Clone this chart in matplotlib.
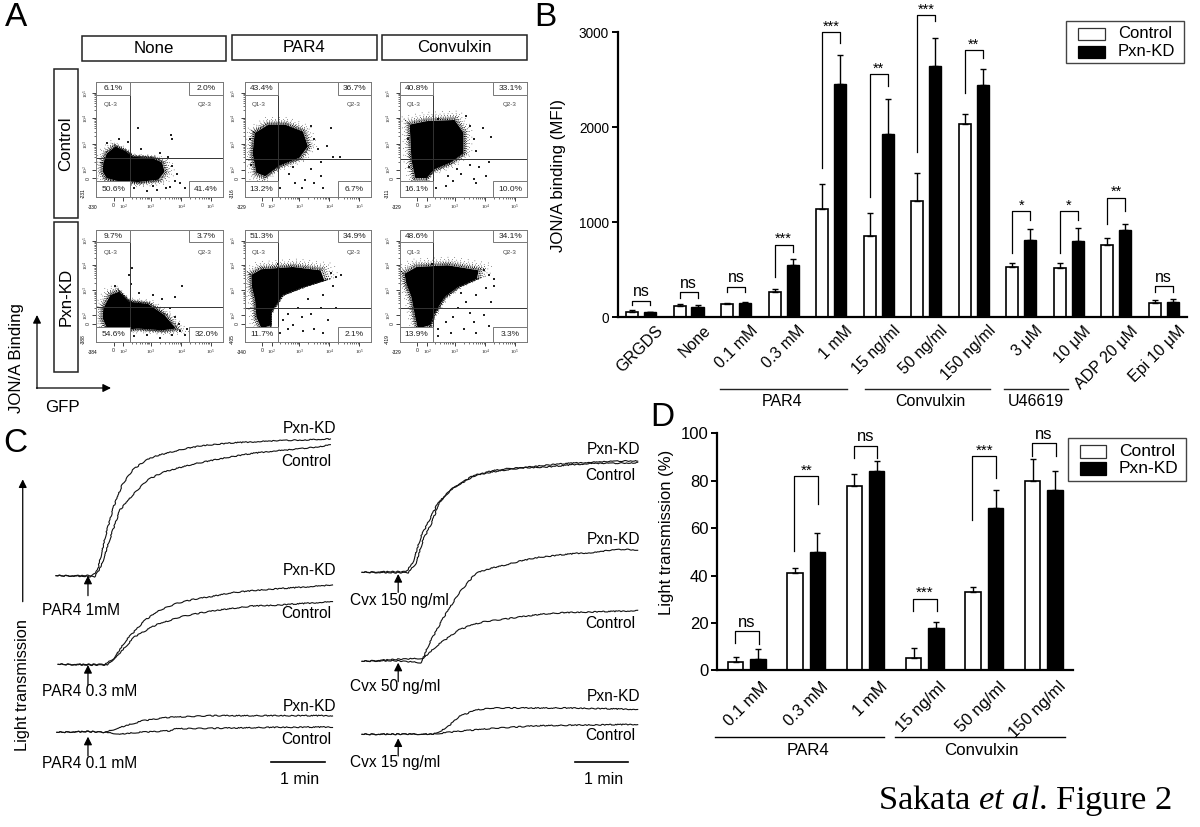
# plot.py - Sakata et al. Figure 2, panels A to D
import matplotlib
matplotlib.use("Agg")
import numpy as np
import matplotlib.pyplot as plt
from matplotlib.patches import Rectangle

# ===================
# SETTINGS
# ===================
plt.rcParams["font.family"] = ["Liberation Sans", "DejaVu Sans"]
plt.rcParams["mathtext.fontset"] = "custom"
plt.rcParams["mathtext.rm"] = "Liberation Serif"
plt.rcParams["mathtext.it"] = "Liberation Serif:italic"

W, H = 1200, 827

# ===================
# DATA - panel B
# ===================
b_labels = ["GRGDS", "None", "0.1 mM", "0.3 mM", "1 mM", "15 ng/ml", "50 ng/ml",
            "150 ng/ml", "3 \u03bcM", "10 \u03bcM", "ADP 20 \u03bcM", "Epi 10 \u03bcM"]
b_control = [60, 120, 145, 265, 1135, 860, 1220, 2030, 530, 515, 760, 155]
b_control_err = [15, 15, 10, 30, 265, 235, 295, 115, 40, 55, 75, 25]
b_kd = [55, 110, 150, 550, 2460, 1930, 2640, 2450, 810, 800, 920, 165]
b_kd_err = [5, 20, 10, 60, 300, 365, 305, 165, 115, 135, 65, 30]
b_sig = ["ns", "ns", "ns", "***", "***", "**", "***", "**", "*", "*", "**", "ns"]
b_sig_top = [175, 263, 323, 765, 3000, 2558, 3183, 2814, 1119, 1119, 1260, 330]
b_sig_left = [125, 207, 263, 421, 1568, 1263, 1744, 2358, 674, 674, 979, 270]
b_sig_right = [125, 207, 263, 684, 2891, 2435, 3120, 2727, 1025, 1025, 1119, 270]

# ===================
# DATA - panel D
# ===================
d_labels = ["0.1 mM", "0.3 mM", "1 mM", "15 ng/ml", "50 ng/ml", "150 ng/ml"]
d_control = [3.6, 41, 77.6, 5.3, 33, 80]
d_control_err = [2.2, 2, 5.4, 4.3, 2, 9.3]
d_kd = [4.6, 50, 84.2, 18, 68.5, 76.2]
d_kd_err = [4.3, 8, 4.1, 2.2, 7.5, 7.8]
d_sig = ["ns", "**", "ns", "***", "***", "ns"]
d_sig_top = [16.5, 82, 94.7, 30.2, 90.4, 95.8]
d_sig_left = [11.4, 50.5, 89.7, 25, 63.4, 90.6]
d_sig_right = [11.1, 70, 89.7, 25, 81.3, 90.6]

# ===================
# DATA - panel A (percent of the plot frame)
# ===================
none_ctrl_cloud = [(5.4, 29.6), (8.2, 38), (15, 44), (23, 40), (29, 35), (44, 34), (52, 30),
                   (54, 22), (49, 15), (33, 13), (16, 14), (8, 16.5), (5, 22)]
par4_ctrl_cloud = [(7.7, 55.7), (18.6, 62.9), (32, 62.9), (46, 57), (50, 44), (43, 34),
                   (27, 27), (16, 18), (9, 21), (6, 38)]
cvx_ctrl_cloud = [(7.6, 63), (21, 66), (43, 67), (50, 56), (50, 38), (40, 30), (27, 24),
                  (21, 16.5), (12, 16.5), (9, 32)]
none_kd_cloud = [(5.4, 30), (11, 42), (18, 45), (26, 36), (41, 34), (54, 24), (63, 12),
                 (52, 10.4), (33, 12), (16.4, 10.4), (8, 13), (5, 21)]
par4_kd_cloud = [(5, 60), (13, 65), (38, 67), (60, 64), (63, 55), (46, 49), (30, 42), (21, 27),
                 (21, 15), (13, 12), (9, 22.3), (8, 37), (5.5, 49)]
cvx_kd_cloud = [(3.5, 61), (13, 67), (37.5, 68.5), (62, 64), (60.6, 56.5), (45.6, 49), (35, 40),
                (27, 25), (24, 15), (14, 12), (12, 22), (9, 40), (5, 52)]

none_ctrl_dots = [(57, 35), (60, 27), (62, 14), (55, 8), (45, 10), (40, 5), (30, 8), (22, 6),
                  (18, 50), (25, 48), (35, 42), (50, 38), (60, 50), (58, 9), (66, 12), (48, 6),
                  (12, 8), (8, 47), (70, 8), (59, 54), (33, 60), (64, 20)]
par4_ctrl_dots = [(55, 50), (58, 42), (60, 30), (52, 24), (48, 15), (40, 12), (35, 20), (28, 8),
                  (22, 12), (60, 18), (70, 35), (75, 35), (4, 50), (5, 28), (65, 44), (45, 8),
                  (55, 12), (68, 60), (52, 62), (18, 9), (38, 26), (62, 8)]
cvx_ctrl_dots = [(55, 62), (58, 50), (60, 40), (55, 28), (48, 20), (42, 14), (36, 10), (28, 8),
                 (62, 26), (68, 18), (60, 12), (65, 60), (72, 52), (6, 50), (7, 26), (30, 68),
                 (52, 70), (45, 24), (58, 16), (70, 30), (18, 8), (38, 18)]
none_kd_dots = [(62, 22), (66, 10), (70, 6), (60, 6), (50, 4), (40, 6), (30, 5), (22, 7),
                (26, 60), (28, 66), (34, 44), (45, 42), (52, 38), (62, 40), (68, 50), (15, 50),
                (72, 12), (75, 8), (58, 30), (27, 52), (12, 5), (65, 16)]
par4_kd_dots = [(68, 62), (72, 58), (76, 60), (70, 50), (62, 42), (50, 38), (42, 30), (34, 25),
                (30, 20), (38, 15), (46, 10), (55, 12), (62, 8), (28, 8), (72, 30), (52, 25),
                (22, 8), (45, 22), (66, 20), (60, 30), (34, 12), (26, 70)]
cvx_kd_dots = [(66, 64), (70, 60), (74, 56), (68, 48), (60, 42), (52, 36), (46, 30), (42, 22),
               (36, 18), (30, 12), (40, 8), (50, 12), (60, 8), (70, 14), (66, 24), (55, 26),
               (72, 36), (48, 44), (58, 18), (30, 5), (25, 70), (74, 50)]

gate_x = [[26.7, 26.3, 26.0], [26.5, 26.3, 26.0]]
gate_y = [[33.6, 33.0, 33.0], [31.3, 30.6, 30.6]]
pct_q1 = [["6.1%", "43.4%", "40.8%"], ["9.7%", "51.3%", "48.6%"]]
pct_q2 = [["2.0%", "36.7%", "33.1%"], ["3.7%", "34.9%", "34.1%"]]
pct_q3 = [["41.4%", "6.7%", "10.0%"], ["32.0%", "2.1%", "3.3%"]]
pct_q4 = [["50.6%", "13.2%", "16.1%"], ["54.6%", "11.7%", "13.9%"]]
low_x = [["-330", "-329", "-329"], ["-384", "-340", "-329"]]
low_y = [["-231", "-316", "-311"], ["-388", "-405", "-419"]]
clouds = [[none_ctrl_cloud, par4_ctrl_cloud, cvx_ctrl_cloud],
          [none_kd_cloud, par4_kd_cloud, cvx_kd_cloud]]
dots = [[none_ctrl_dots, par4_ctrl_dots, cvx_ctrl_dots],
        [none_kd_dots, par4_kd_dots, cvx_kd_dots]]
decade_x = [13.6, 21.3, 43, 67, 90.5]
decade_y = [16.5, 23.8, 46, 68.7, 90.4]
decade_txt = ["0", "$10^{2}$", "$10^{3}$", "$10^{4}$", "$10^{5}$"]

# ===================
# DATA - panel C
# ===================
par4_1_kd = [(133, 467), (190, 467), (220, 466), (232, 450), (250, 350), (270, 260), (290, 195),
             (315, 150), (345, 122), (370, 108), (400, 98), (440, 86), (480, 77), (520, 72),
             (560, 68), (610, 65), (660, 62), (720, 60), (785, 57)]
par4_1_ctrl = [(133, 467), (200, 469), (225, 470), (240, 440), (260, 360), (285, 270), (315, 225),
               (350, 180), (385, 158), (420, 145), (460, 132), (500, 122), (550, 110), (600, 100),
               (650, 93), (700, 88), (745, 82), (785, 75)]
par4_03_kd = [(138, 733), (200, 733), (250, 733), (270, 715), (300, 660), (345, 600), (380, 570),
              (420, 550), (460, 538), (500, 530), (550, 518), (600, 512), (650, 507), (700, 503),
              (790, 495)]
par4_03_ctrl = [(138, 733), (200, 735), (255, 735), (280, 705), (320, 650), (370, 615), (430, 590),
                (480, 578), (520, 570), (600, 558), (650, 556), (700, 552), (790, 545)]
par4_01_kd = [(135, 937), (210, 935), (250, 937), (290, 920), (340, 902), (400, 892), (500, 887),
              (790, 887)]
par4_01_ctrl = [(135, 937), (210, 934), (250, 937), (285, 942), (330, 937), (410, 932), (415, 926),
                (500, 925), (650, 922), (790, 921)]
cvx_150_kd = [(860, 457), (920, 455), (965, 455), (980, 430), (1000, 350), (1020, 300), (1040, 250),
              (1070, 210), (1120, 170), (1160, 158), (1200, 150), (1250, 142), (1300, 135),
              (1350, 130), (1400, 127), (1460, 124), (1515, 122)]
cvx_150_ctrl = [(860, 457), (920, 458), (970, 458), (988, 430), (1005, 360), (1025, 310),
                (1045, 245), (1075, 205), (1130, 165), (1170, 152), (1210, 145), (1260, 143),
                (1310, 140), (1360, 134), (1410, 130), (1460, 130), (1515, 128)]
cvx_50_kd = [(860, 724), (940, 722), (1000, 728), (1020, 670), (1055, 590), (1090, 520), (1130, 460),
             (1165, 445), (1200, 435), (1240, 422), (1280, 412), (1330, 405), (1370, 400),
             (1410, 398), (1440, 392), (1480, 388), (1515, 390)]
cvx_50_ctrl = [(860, 724), (940, 718), (1005, 715), (1040, 675), (1090, 630), (1120, 615),
               (1150, 605), (1200, 597), (1240, 590), (1290, 582), (1340, 578), (1430, 575),
               (1515, 572)]
cvx_15_kd = [(860, 943), (1030, 942), (1060, 925), (1090, 890), (1130, 870), (1170, 864), (1350, 864),
             (1515, 868)]
cvx_15_ctrl = [(860, 943), (1030, 942), (1080, 935), (1170, 925), (1280, 917), (1515, 913)]
traces = [par4_1_kd, par4_1_ctrl, par4_03_kd, par4_03_ctrl, par4_01_kd, par4_01_ctrl,
          cvx_150_kd, cvx_150_ctrl, cvx_50_kd, cvx_50_ctrl, cvx_15_kd, cvx_15_ctrl]

trace_names = ["Pxn-KD", "Control", "Pxn-KD", "Control", "Pxn-KD", "Control",
               "Pxn-KD", "Control", "Pxn-KD", "Control", "Pxn-KD", "Control"]
trace_name_x = [735, 727, 735, 727, 735, 727, 1457, 1450, 1457, 1450, 1457, 1450]
trace_name_y = [25, 125, 452, 582, 860, 958, 87, 167, 360, 612, 830, 945]
dose_names = ["PAR4 1mM", "PAR4 0.3 mM", "PAR4 0.1 mM", "Cvx 150 ng/ml", "Cvx 50 ng/ml", "Cvx 15 ng/ml"]
dose_x = [100, 100, 100, 832, 832, 832]
dose_y = [572, 815, 1030, 542, 800, 1026]
arrow_x = [209, 209, 209, 946, 946, 946]
arrow_tail = [527, 795, 1008, 517, 785, 1008]
arrow_head = [467, 735, 950, 462, 728, 955]


# ========================
# FUNCTION DEFINITIONS
# ========================
def px_axes(fig, x0, y0, x1, y1):
    # axes placed by pixel box, y measured from the top of the picture
    return fig.add_axes([x0 / W, 1 - y1 / H, (x1 - x0) / W, (y1 - y0) / H])


def draw_bars(ax, control, control_err, kd, kd_err, width, offset):
    x = np.arange(len(control))
    ax.bar(x - offset, control, width, color="white", edgecolor="black", linewidth=1.2)
    ax.bar(x + offset, kd, width, color="black", edgecolor="black", linewidth=1.0)
    zeros = np.zeros(len(control))
    ax.errorbar(x - offset, control, yerr=[zeros, control_err], fmt="none", ecolor="black",
                elinewidth=1.0, capsize=2.5, capthick=1.0)
    ax.errorbar(x + offset, kd, yerr=[zeros, kd_err], fmt="none", ecolor="black",
                elinewidth=1.0, capsize=2.5, capthick=1.0)
    for side in ["top", "right"]:
        ax.spines[side].set_visible(False)
    for side in ["left", "bottom"]:
        ax.spines[side].set_linewidth(1.6)
    ax.set_xticks([])


def draw_brackets(ax, sig, top, left, right, offset, ns_size, star_size, star_shift):
    for i, s in enumerate(sig):
        xs = [i - offset, i - offset, i + offset, i + offset]
        ax.plot(xs, [left[i], top[i], top[i], right[i]], color="black", lw=0.9, clip_on=False)
        if s == "ns":
            ax.annotate(s, (i, top[i]), xytext=(0, 1), textcoords="offset points", ha="center",
                        va="bottom", fontsize=ns_size, annotation_clip=False)
        else:
            ax.annotate(s, (i, top[i]), xytext=(0, star_shift), textcoords="offset points",
                        ha="center", va="bottom", fontsize=star_size, annotation_clip=False)


def draw_xlabels(ax, labels, dx, dy, size):
    for i, lab in enumerate(labels):
        ax.annotate(lab, (i, 0), xytext=(dx, dy), textcoords="offset points", rotation=45,
                    rotation_mode="anchor", ha="right", va="center", fontsize=size,
                    annotation_clip=False)


def draw_flow(ax, row, col):
    ax.set_xlim(0, 100)
    ax.set_ylim(0, 100)
    for s in ax.spines.values():
        s.set_linewidth(0.7)
        s.set_color("#777777")
    cloud = np.array(clouds[row][col])
    mid = cloud.mean(axis=0)
    ax.fill(cloud[:, 0], cloud[:, 1], color="black", lw=0)
    # fine dotted rings round the outline give the population its speckled fringe
    for grow, lw, dash in [(1.03, 0.9, (0.8, 0.6)), (1.07, 0.8, (0.8, 1.0)), (1.11, 0.7, (0.8, 1.7)),
                           (1.16, 0.6, (0.8, 2.8)), (1.22, 0.5, (0.8, 5.0)), (1.3, 0.5, (0.8, 9.0))]:
        ring = mid + (np.vstack([cloud, cloud[:1]]) - mid) * grow
        ax.plot(ring[:, 0], ring[:, 1], color="black", lw=lw, ls=(0, dash), dash_capstyle="butt")
    stray = np.array(dots[row][col])
    ax.scatter(stray[:, 0], stray[:, 1], s=0.7, color="#222222", linewidths=0, marker="s")

    ax.axvline(gate_x[row][col], color="#333333", lw=0.7)
    ax.axhline(gate_y[row][col], color="#333333", lw=0.7)

    gx = gate_x[row][col]
    boxes = [(0, 89, gx, 11), (73.6, 89, 26.4, 11), (73.6, 0, 26.4, 13.5), (0, 0, gx, 13.5)]
    names = [pct_q1, pct_q2, pct_q3, pct_q4]
    for b, n in zip(boxes, names):
        ax.add_patch(Rectangle((b[0], b[1]), b[2], b[3], fc="white", ec="#777777", lw=0.7, zorder=4))
        ax.text(b[0] + b[2] / 2, b[1] + b[3] / 2, n[row][col], ha="center", va="center",
                fontsize=6, color="#222222", zorder=5)
    ax.text(11, 80, "Q1-3", ha="center", va="center", fontsize=4.5, color="#444444")
    ax.text(86, 80, "Q2-3", ha="center", va="center", fontsize=4.5, color="#444444")

    ax.set_xticks(decade_x)
    ax.set_xticklabels(decade_txt)
    ax.set_yticks(decade_y)
    ax.set_yticklabels(decade_txt, rotation=90, va="center")
    minor_x, minor_y = [], []
    for lo, hi in zip(decade_x[1:-1], decade_x[2:]):
        minor_x += list(lo + (hi - lo) * np.log10(np.arange(2, 10)))
    for lo, hi in zip(decade_y[1:-1], decade_y[2:]):
        minor_y += list(lo + (hi - lo) * np.log10(np.arange(2, 10)))
    ax.set_xticks(minor_x, minor=True)
    ax.set_yticks(minor_y, minor=True)
    ax.tick_params(which="major", length=3, width=0.6, labelsize=3.8, pad=1, colors="#222222")
    ax.tick_params(which="minor", length=1.5, width=0.4)
    ax.text(-3, -9, low_x[row][col], fontsize=3.5, ha="center", va="center", clip_on=False)
    ax.text(-10, 3, low_y[row][col], fontsize=3.5, rotation=90, ha="center", va="center", clip_on=False)


def legend_box(page, x0, y0, x1, y1, patch_x0, patch_x1, y_c, y_k, patch_h, text_x, size):
    page.add_patch(Rectangle((x0, y0), x1 - x0, y1 - y0, fc="white", ec="#444444", lw=1.0, zorder=6))
    page.add_patch(Rectangle((patch_x0, y_c - patch_h / 2), patch_x1 - patch_x0, patch_h,
                             fc="white", ec="#333333", lw=0.9, zorder=7))
    page.add_patch(Rectangle((patch_x0, y_k - patch_h / 2), patch_x1 - patch_x0, patch_h,
                             fc="black", ec="black", lw=0.9, zorder=7))
    page.text(text_x, y_c, "Control", va="center", fontsize=size, zorder=7)
    page.text(text_x, y_k, "Pxn-KD", va="center", fontsize=size, zorder=7)


# =================
# EXECUTION
# =================
fig = plt.figure(figsize=(W / 100, H / 100), dpi=100, facecolor="white")

# page axes for the lettering, boxes and group lines, in picture pixels
page = fig.add_axes([0, 0, 1, 1], zorder=5)
page.set_xlim(0, W)
page.set_ylim(H, 0)
page.axis("off")
page.patch.set_alpha(0)

for letter, lx, ly in [("A", 16, 18), ("B", 545, 17), ("C", 15, 443), ("D", 662, 417)]:
    page.text(lx, ly, letter, fontsize=24, ha="center", va="center")

# ---- panel A
for name, x0, x1, y0, y1 in [("None", 81.6, 226, 36, 61), ("PAR4", 231.5, 376.7, 35, 60),
                             ("Convulxin", 382, 527, 35, 60)]:
    page.add_patch(Rectangle((x0, y0), x1 - x0, y1 - y0, fc="white", ec="#222222", lw=1.1))
    page.text((x0 + x1) / 2, (y0 + y1) / 2, name, ha="center", va="center", fontsize=12.2)
for name, y0, y1 in [("Control", 68.7, 218), ("Pxn-KD", 222, 372)]:
    page.add_patch(Rectangle((53.7, y0), 24.3, y1 - y0, fc="white", ec="#222222", lw=1.1))
    page.text(66, (y0 + y1) / 2, name, ha="center", va="center", rotation=90, fontsize=12.2)

flow_cols = [(96.4, 222.8), (245, 371), (400, 527)]
flow_rows = [(82, 197), (230, 342)]
for r, (y0, y1) in enumerate(flow_rows):
    for c, (x0, x1) in enumerate(flow_cols):
        draw_flow(px_axes(fig, x0, y0, x1, y1), r, c)

arrow_style = dict(arrowstyle="-|>", color="black", lw=0.9, shrinkA=0, shrinkB=0, mutation_scale=12)
page.annotate("", xy=(37, 315), xytext=(37, 388.5), arrowprops=arrow_style)
page.annotate("", xy=(111, 388), xytext=(36.5, 388), arrowprops=arrow_style)
page.text(17, 358, "JON/A Binding", rotation=90, ha="center", va="center", fontsize=12.2)
page.text(62, 408, "GFP", ha="center", va="center", fontsize=12.2)

# ---- panel B
ax_b = px_axes(fig, 618, 32.3, 1187, 317.3)
draw_bars(ax_b, b_control, b_control_err, b_kd, b_kd_err, 0.2526, 0.189)
ax_b.set_xlim(-0.484, 11.49)
ax_b.set_ylim(0, 3000)
ax_b.set_yticks([0, 1000, 2000, 3000])
ax_b.tick_params(axis="y", length=4.5, width=1.4, labelsize=9.8, pad=2)
draw_brackets(ax_b, b_sig, b_sig_top, b_sig_left, b_sig_right, 0.189, 11.5, 10.5, -1)
draw_xlabels(ax_b, b_labels, 14, -8, 11.5)
page.text(559, 175, "JON/A binding (MFI)", rotation=90, ha="center", va="center", fontsize=12.2)
for lab, x0, x1, tx in [("PAR4", 720, 847, 782), ("Convulxin", 865, 990, 930), ("U46619", 1003.5, 1067.6, 1036)]:
    page.plot([x0, x1], [389, 389], color="#222222", lw=1.0)
    page.text(tx, 402, lab, ha="center", va="center", fontsize=11.5)
legend_box(page, 1066, 21, 1184, 63, 1078, 1105, 34, 52, 12, 1118, 12)

# ---- panel C
ax_c = px_axes(fig, 0, 420, 660, 827)
ax_c.set_xlim(0, 1568)
ax_c.set_ylim(1221, 0)
ax_c.axis("off")
for tr in traces:
    pts = np.array(tr)
    line, = ax_c.plot(pts[:, 0], pts[:, 1], color="#111111", lw=0.8)
    line.set_sketch_params(scale=0.5, length=6, randomness=8)
for nm, tx, ty in zip(trace_names, trace_name_x, trace_name_y):
    ax_c.text(tx, ty, nm, ha="center", va="center", fontsize=11.2)
for nm, tx, ty in zip(dose_names, dose_x, dose_y):
    ax_c.text(tx, ty, nm, ha="left", va="center", fontsize=11.2)
for ax_x, tail, head in zip(arrow_x, arrow_tail, arrow_head):
    ax_c.annotate("", xy=(ax_x, head), xytext=(ax_x, tail), arrowprops=arrow_style)
for x0, x1, y, tx, ty in [(643, 772, 1027, 712, 1080), (1365, 1493, 1025, 1433, 1078)]:
    ax_c.plot([x0, x1], [y, y], color="black", lw=1.2)
    ax_c.text(tx, ty, "1 min", ha="center", va="center", fontsize=11.5)
ax_c.annotate("", xy=(54, 178), xytext=(54, 545), arrowprops=arrow_style)
ax_c.text(54, 795, "Light transmission", rotation=90, ha="center", va="center", fontsize=11.8)

# ---- panel D
ax_d = px_axes(fig, 716.6, 433.3, 1072.7, 670.3)
draw_bars(ax_d, d_control, d_control_err, d_kd, d_kd_err, 0.26, 0.1886)
ax_d.set_xlim(-0.508, 5.487)
ax_d.set_ylim(0, 100)
ax_d.set_yticks([0, 20, 40, 60, 80, 100])
ax_d.tick_params(axis="y", length=4.5, width=1.4, labelsize=12, pad=1.5)
draw_brackets(ax_d, d_sig, d_sig_top, d_sig_left, d_sig_right, 0.2, 12, 11, -1)
draw_xlabels(ax_d, d_labels, 14, -10, 12)
page.text(666, 532, "Light transmission (%)", rotation=90, ha="center", va="center", fontsize=12)
for lab, x0, x1, tx in [("PAR4", 715, 884, 807.8), ("Convulxin", 895, 1065, 981.5)]:
    page.plot([x0, x1], [736.7, 736.7], color="black", lw=1.0)
    page.text(tx, 750.7, lab, ha="center", va="center", fontsize=12.2)
legend_box(page, 1068, 438, 1185.6, 480.7, 1080, 1106, 451, 468.5, 13, 1119, 12.5)

page.text(1025, 801, r"Sakata $\mathit{et\ al}$. Figure 2", family="Liberation Serif",
          ha="center", va="center", fontsize=24.8)

fig.savefig("out.png", dpi=100)
